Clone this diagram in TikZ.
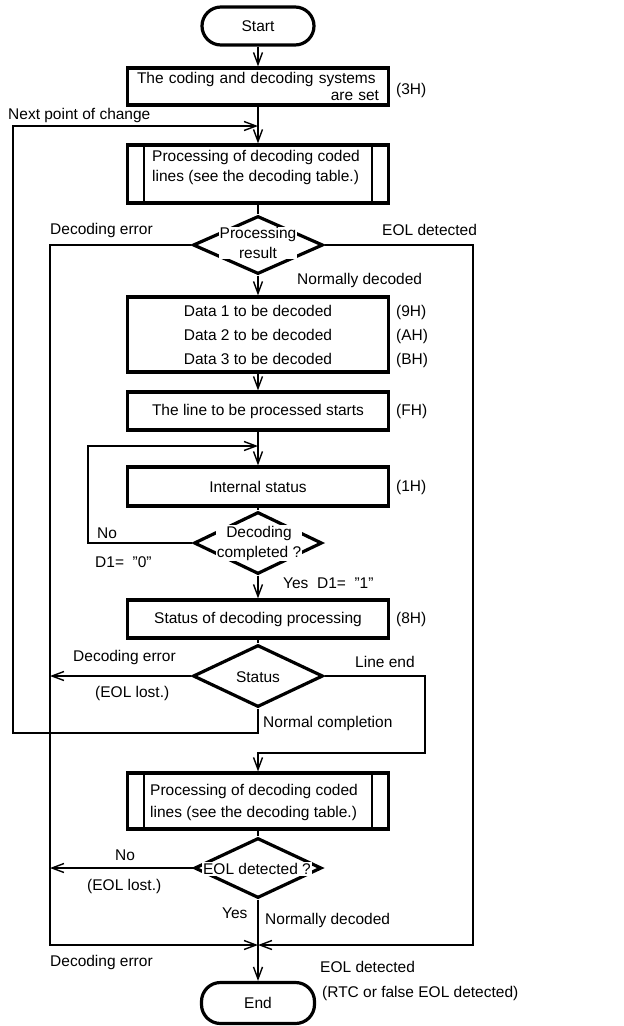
\documentclass[tikz,border=0pt]{standalone}
\usepackage{fontspec}
\setmainfont{Liberation Sans}
\usetikzlibrary{shapes.geometric,arrows.meta}
\begin{document}
\begin{tikzpicture}[x=1pt,y=-1pt,
  font=\fontsize{15.5}{19}\selectfont,
  box/.style={draw, line width=3.2pt, minimum width=261, inner sep=0pt, align=center},
  term/.style={draw, line width=3.2pt, rounded corners=19pt, inner sep=0pt},
  dia/.style={draw, diamond, line width=3.2pt, inner sep=0pt},
  dtxt/.style={fill=white, inner sep=1pt, align=center},
  inner/.style={line width=2.4pt},
  conn/.style={line width=1.4pt},
  arr/.style={conn, -{Straight Barb[length=12pt,width=9pt]}},
  lbl/.style={inner sep=0pt, anchor=west}
]
\useasboundingbox (0,0) rectangle (624,1026);

% nodes
\node[term, minimum width=112, minimum height=38] (start) at (258,26) {Start};
\node[box, minimum height=37, text width=242, inner xsep=9.5, align=left,
      font=\fontsize{15.5}{17}\selectfont] (b1) at (258,86.5)
      {The coding and decoding systems\\\hspace*{\fill}are set};
\node[box, minimum height=58] (b2) at (258,174) {};
\draw[inner] ([xshift=18]b2.north west) -- ([xshift=18]b2.south west);
\draw[inner] ([xshift=-18]b2.north east) -- ([xshift=-18]b2.south east);
\node[lbl, align=left, font=\fontsize{15.5}{20}\selectfont] (t2) at (152,167)
      {Processing of decoding coded\\lines (see the decoding table.)};

\node[dia, minimum width=130, minimum height=58] (d1) at (258,245) {};
\node[dtxt, inner sep=0.5pt, font=\fontsize{15.5}{20}\selectfont] (d1t) at (258,243) {Processing\\result};

\node[box, minimum height=75, font=\fontsize{15.5}{24}\selectfont] (b3) at (258,334.5)
      {Data 1 to be decoded\\Data 2 to be decoded\\Data 3 to be decoded};
\node[box, minimum height=38] (b4) at (258,411) {The line to be processed starts};
\node[box, minimum height=39] (b5) at (258,486.5) {Internal status};

\node[dia, minimum width=128, minimum height=62] (d2) at (258,543) {};
\node[dtxt, font=\fontsize{15.5}{20}\selectfont] (d2t) at (259,543) {Decoding\\completed ?};

\node[box, minimum height=38] (b6) at (258,619) {Status of decoding processing};

\node[dia, minimum width=130, minimum height=62] (d3) at (258,676) {};
\node[dtxt] (d3t) at (258,677) {Status};

\node[box, minimum height=56] (b7) at (258,801) {};
\draw[inner] ([xshift=18]b7.north west) -- ([xshift=18]b7.south west);
\draw[inner] ([xshift=-18]b7.north east) -- ([xshift=-18]b7.south east);
\node[lbl, align=left, font=\fontsize{15.5}{22}\selectfont] (t7) at (150,802)
      {Processing of decoding coded\\lines (see the decoding table.)};

\node[dia, minimum width=127, minimum height=60] (d4) at (258,868) {};
\node[dtxt] (d4t) at (257,869) {EOL detected ?};

\node[term, minimum width=113, minimum height=41] (end) at (258,1003) {End};

% side labels
\node[lbl] (l3h) at (396,90) {(3H)};
\node[lbl] (l9h) at (396,312) {(9H)};
\node[lbl] (lah) at (396,336) {(AH)};
\node[lbl] (lbh) at (396,360) {(BH)};
\node[lbl] (lfh) at (396,411) {(FH)};
\node[lbl] (l1h) at (396,487) {(1H)};
\node[lbl] (l8h) at (396,619) {(8H)};

% connector labels
\node[lbl] (nxt) at (8,115) {Next point of change};
\node[lbl] (de1) at (50,230) {Decoding error};
\node[lbl] (eol1) at (382,230) {EOL detected};
\node[lbl] (nd1) at (297,280) {Normally decoded};
\node[lbl] (no1) at (97,533) {No};
\node[lbl] (d10) at (95,562) {D1=~~"0"};
\node[lbl] (yes1) at (283,583) {Yes~~D1=~~"1"};
\node[lbl] (de2) at (73,657) {Decoding error};
\node[lbl] (lost1) at (95,693) {(EOL lost.)};
\node[lbl] (le) at (355,662) {Line end};
\node[lbl] (nc) at (263,723) {Normal completion};
\node[lbl] (no2) at (115,855) {No};
\node[lbl] (lost2) at (87,886) {(EOL lost.)};
\node[lbl] (yes2) at (222,913) {Yes};
\node[lbl] (nd2) at (265,920) {Normally decoded};
\node[lbl] (de3) at (50,962) {Decoding error};
\node[lbl] (eol2) at (320,967) {EOL detected};
\node[lbl] (rtc) at (322,993) {(RTC or false EOL detected)};

% junction coordinates
\coordinate (jn) at (258,126);
\coordinate (jl) at (258,446);
\coordinate (jb) at (258,945);
\coordinate (el1) at (50,676);
\coordinate (el2) at (50,868);

% connectors
\draw[arr] (start) -- (b1);
\draw[arr] (b1) -- (b2);
\draw[arr] (d3.south) -- (258,733) -- (13,733) -- (13,126) -- (jn);
\draw[conn] (b2) -- (d1);
\draw[arr] (d1.west) -| (50,945) -- (jb);
\draw[arr] (d1.east) -| (473,945) -- (jb);
\draw[arr] (d1) -- (b3);
\draw[arr] (b3) -- (b4);
\draw[arr] (b4) -- (b5);
\draw[arr] (d2.west) -| (88,446) -- (jl);
\draw[conn] (b5) -- (d2);
\draw[arr] (d2) -- (b6);
\draw[conn] (b6) -- (d3);
\draw[arr] (d3.west) -- (el1);
\draw[arr] (d3.east) -| (425,753) -- (258,753) -- (b7.north);
\draw[conn] (b7) -- (d4);
\draw[arr] (d4.west) -- (el2);
\draw[arr] (d4.south) -- (end.north);
\end{tikzpicture}
\end{document}
